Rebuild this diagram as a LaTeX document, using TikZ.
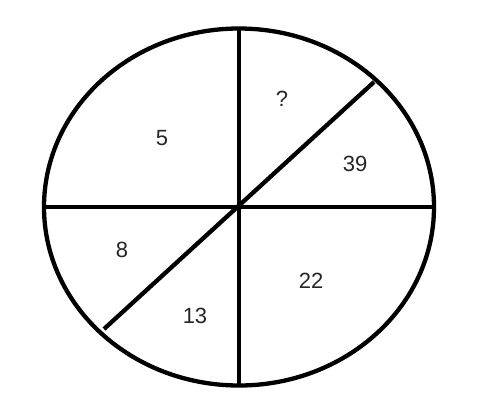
\documentclass[tikz,border=0pt]{standalone}
\usepackage{fontspec}
\setmainfont{Liberation Sans}
\begin{document}
\begin{tikzpicture}[x=1pt,y=-1pt,
  rim/.style={line width=4.3pt},
  spoke/.style={line width=4.3pt,line cap=butt},
  num/.style={font=\fontsize{22}{22}\selectfont,text=black!85}]
\useasboundingbox (0,0) rectangle (500,400);
\coordinate (c) at (239,207);
\coordinate (top) at (239,28);
\coordinate (bot) at (239,385);
\coordinate (left) at (44,207);
\coordinate (right) at (434,207);
\coordinate (ne) at (374,82);
\coordinate (sw) at (104,329);
\draw[spoke] (top) -- (bot);
\draw[spoke] (left) -- (right);
\draw[spoke] (ne) -- (sw);
\draw[rim] (c) ellipse [x radius=195, y radius=178.5];
\node[num] (n5) at (162,138) {5};
\node[num] (nq) at (282,99) {?};
\node[num] (n39) at (355,164) {39};
\node[num] (n8) at (122,250) {8};
\node[num] (n22) at (311,281) {22};
\node[num] (n13) at (195,316) {13};
\end{tikzpicture}
\end{document}
